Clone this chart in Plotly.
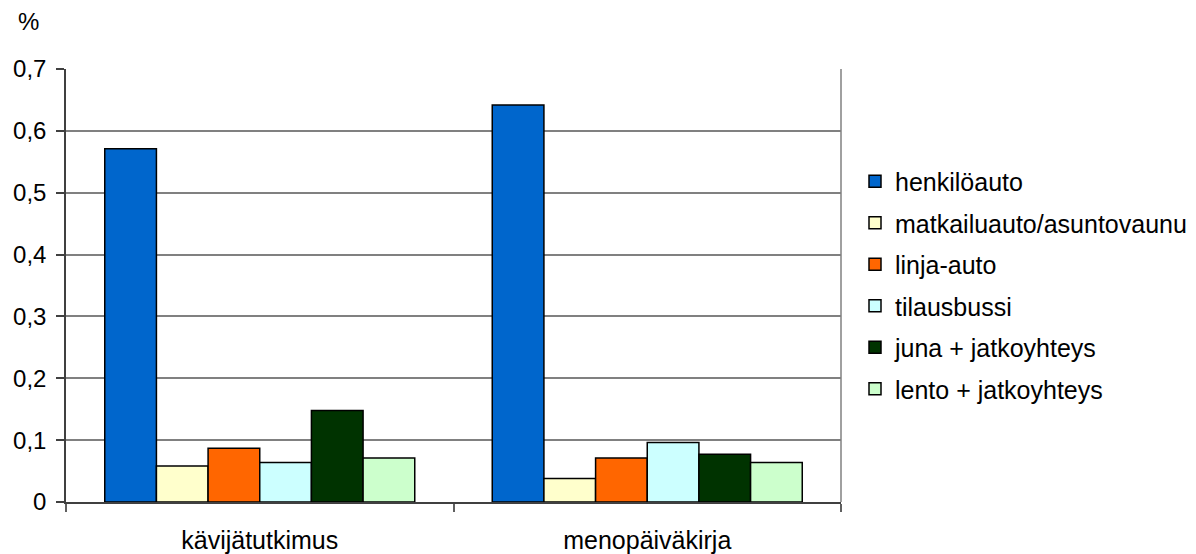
import plotly.graph_objects as go

categories = ["kävijätutkimus", "menopäiväkirja"]
series_names = ["henkilöauto", "matkailuauto/asuntovaunu", "linja-auto",
                "tilausbussi", "juna + jatkoyhteys", "lento + jatkoyhteys"]
henkiloauto = [0.571, 0.642]
matkailuauto = [0.058, 0.038]
linja_auto = [0.087, 0.071]
tilausbussi = [0.064, 0.096]
juna = [0.148, 0.077]
lento = [0.071, 0.064]
series_values = [henkiloauto, matkailuauto, linja_auto, tilausbussi, juna, lento]
colors = ["#0066CC", "#FFFFCC", "#FF6600", "#CCFFFF", "#003300", "#CCFFCC"]

FONT = "Liberation Sans, Arial, sans-serif"

W, H = 1188, 546
ML, MR, MT, MB = 58, 355, 61, 52
PW, PH = W - ML - MR, H - MT - MB

fig = go.Figure()
for i, (name, vals, col) in enumerate(zip(series_names, series_values, colors)):
    fig.add_trace(go.Bar(
        x=categories, y=vals, name=name, legendgroup=f"g{i}",
        marker=dict(color=col, line=dict(color="#000000", width=1.5)),
    ))

fig.update_layout(
    width=W, height=H,
    margin=dict(l=ML, r=MR, t=MT, b=MB, autoexpand=False),
    paper_bgcolor="white", plot_bgcolor="white",
    barmode="group", bargap=0.2, bargroupgap=0,
    separators=", ",
    font=dict(family=FONT, size=24, color="#000000"),
    showlegend=True,
    legend=dict(
        xref="container", yref="container",
        x=847 / W, y=1 - 277 / H, xanchor="left", yanchor="middle",
        font=dict(size=25, family=FONT, color="#000000"),
        tracegroupgap=6, bgcolor="rgba(0,0,0,0)",
        itemclick=False,
    ),
    xaxis=dict(
        type="category", tickson="boundaries", ticks="outside",
        ticklen=8, tickcolor="#606060", tickwidth=1.5,
        showline=True, linecolor="#404040", linewidth=1.5,
        showgrid=False, tickfont=dict(size=25, family=FONT),
        ticklabelstandoff=15, automargin=False,
    ),
    yaxis=dict(
        range=[0, 0.7], dtick=0.1, tick0=0,
        ticks="outside", ticklen=8, tickcolor="#404040", tickwidth=1.5,
        showline=True, linecolor="#404040", linewidth=1.5,
        showgrid=True, gridcolor="#808080", gridwidth=1.5,
        zeroline=False, tickfont=dict(size=24, family=FONT),
        ticklabelstandoff=5, automargin=False,
    ),
    annotations=[dict(
        text="%", xref="paper", yref="paper",
        x=(20 - ML) / PW, y=(H - 13 - MB) / PH,
        xanchor="center", yanchor="middle", showarrow=False,
        font=dict(size=24, family=FONT, color="#000000"),
    )],
    shapes=[dict(type="line", xref="paper", yref="paper", x0=1, x1=1, y0=0, y1=1,
                 line=dict(color="#808080", width=1.5))],
)

fig.write_html("out.html")
